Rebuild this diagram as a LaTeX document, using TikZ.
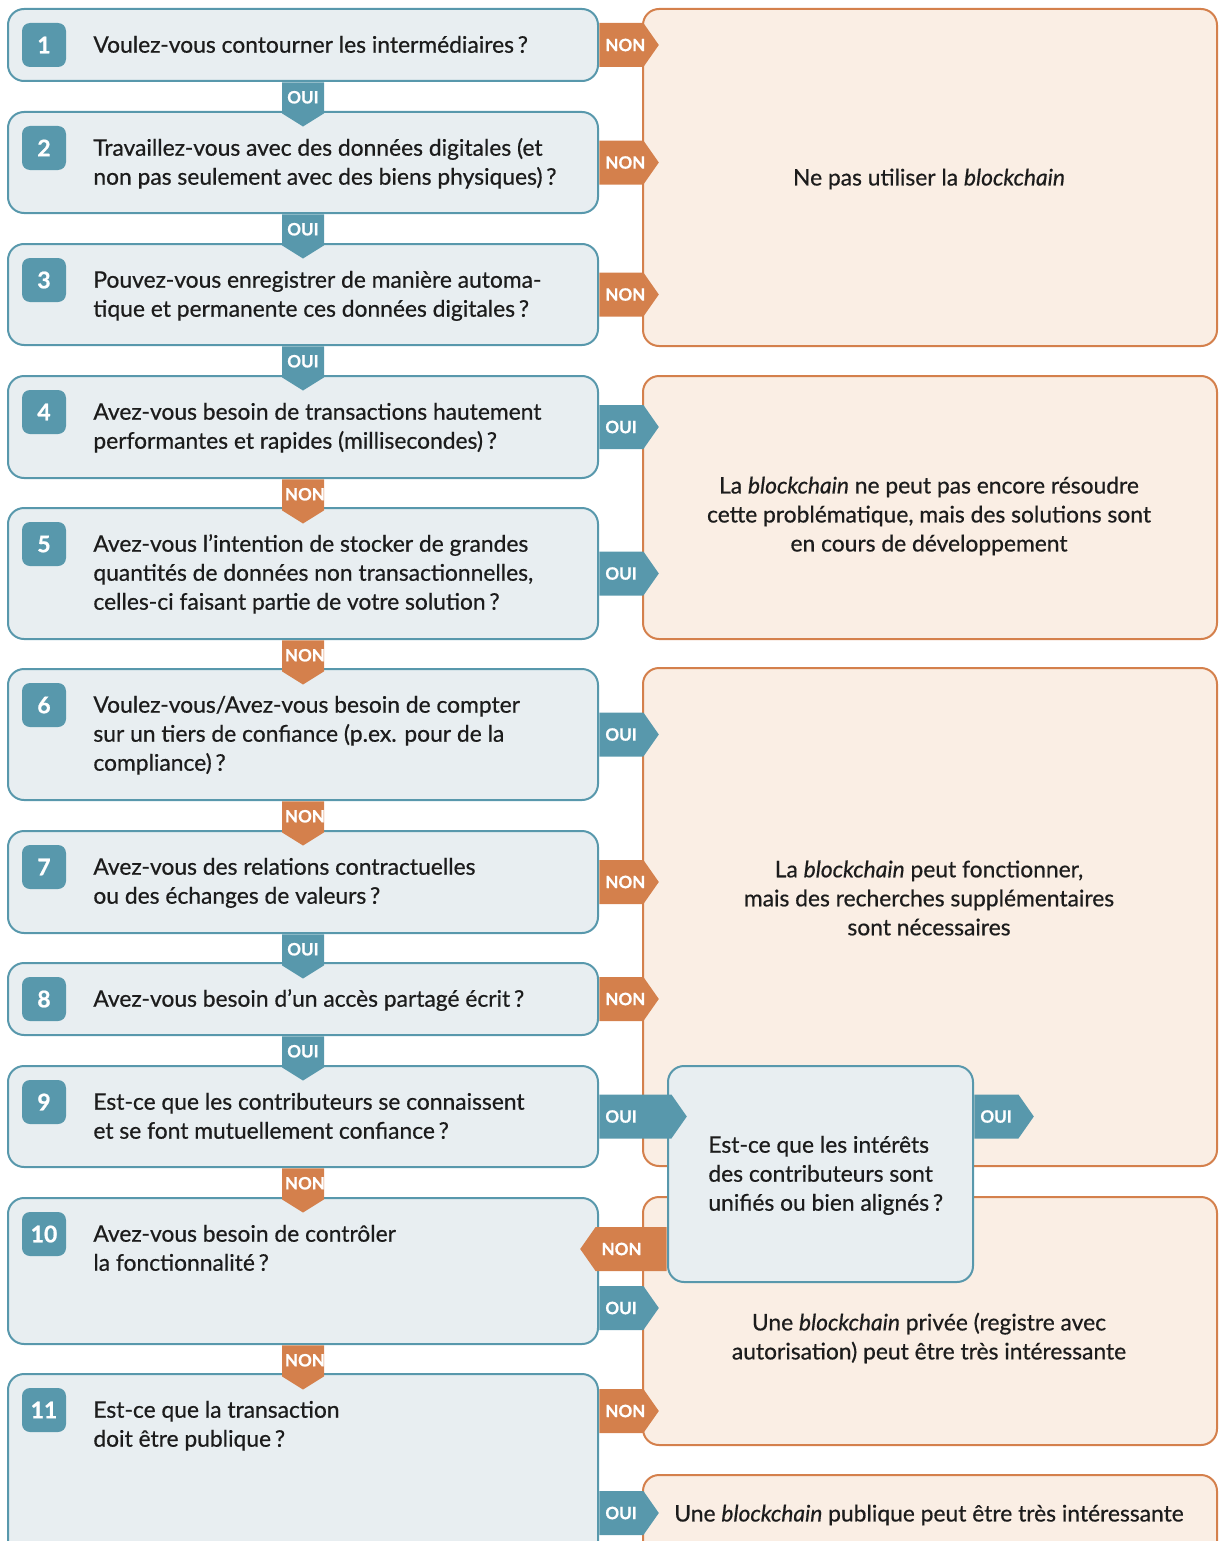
\documentclass[tikz,border=0pt]{standalone}
\usepackage{fontspec}
\setmainfont{Lato}[UprightFeatures={FakeBold=0.6}, ItalicFeatures={FakeBold=0.6}, BoldFeatures={FakeBold=0.8}]
\definecolor{qteal}{RGB}{88, 152, 172}
\definecolor{qorange}{RGB}{212, 128, 76}
\definecolor{qfill}{RGB}{232, 238, 241}
\definecolor{rfill}{RGB}{250, 238, 228}
\definecolor{qtext}{RGB}{28, 28, 28}
\usetikzlibrary{shapes.symbols, positioning}

\begin{document}
\begin{tikzpicture}[x=0.5pt, y=-0.5pt,
  qbox/.style={draw=qteal, fill=qfill, line width=1pt, rounded corners=8pt, minimum width=295pt, inner sep=0pt},
  rbox/.style={draw=qorange, fill=rfill, line width=1pt, rounded corners=8pt, minimum width=287pt, inner sep=0pt},
  badge/.style={fill=qteal, rounded corners=4pt, minimum width=22pt, minimum height=22pt, inner sep=0pt, text=white, font=\fontsize{11.5}{13}\selectfont\bfseries},
  qtxt/.style={anchor=north west, inner sep=0pt, align=left, text=qtext, font=\fontsize{11.4}{14.5}\selectfont},
  rtxt/.style={inner sep=0pt, align=center, text=qtext, font=\fontsize{11.4}{14.5}\selectfont},
  tagE/.style={signal, signal to=east, signal pointer angle=110, minimum height=22pt, text width=16pt, inner xsep=3pt, inner ysep=0pt, align=left, anchor=west, text=white, font=\fontsize{8.5}{9}\selectfont\bfseries},
  tagW/.style={tagE, signal to=west, anchor=east},
  tagS/.style={signal, signal to=south, signal pointer angle=116, text height=10.5pt, text depth=5pt, text width=18pt, inner xsep=1.5pt, inner ysep=0pt, align=center, anchor=north, text=white, font=\fontsize{8.5}{9}\selectfont\bfseries},
  oui/.style={fill=qteal}, non/.style={fill=qorange}]
  \useasboundingbox (0,0) rectangle (1224,1541);

  % Outcome boxes (right)
  \node[rbox, minimum height=168.5pt] (r1) at (930,177.5) {};
  \node[rbox, minimum height=131.5pt] (r2) at (930,507.5) {};
  \node[rbox, minimum height=249pt] (r3) at (930,917) {};
  \node[rbox, minimum height=124pt] (r4) at (930,1321) {};
  \node[rbox, minimum height=52.5pt] (r5) at (930,1527.5) {};

  \node[rtxt] (r1t) at (929,179) {Ne pas utiliser la \textit{blockchain}};
  \node[rtxt] (r2t) at (929,516) {La \textit{blockchain} ne peut pas encore résoudre\\cette problématique, mais des solutions sont\\en cours de développement};
  \node[rtxt] (r3t) at (929,898) {La \textit{blockchain} peut fonctionner,\\mais des recherches supplémentaires\\sont nécessaires};
  \node[rtxt] (r4t) at (929,1338) {Une \textit{blockchain} privée (registre avec\\autorisation) peut être très intéressante};
  \node[rtxt] (r5t) at (929,1515) {Une \textit{blockchain} publique peut être très intéressante};

  % Question boxes (left)
  \foreach \n/\t/\b in {1/9/81, 2/112/213, 3/244/345, 4/376/478, 5/508/639, 6/669/800,
      7/831/933, 8/963/1035, 9/1066/1167, 10/1198/1344, 11/1374/1580} {
    \node[qbox, minimum height={(\b-\t)*0.5pt}] (q\n) at (303,{(\t+\b)/2}) {};
    \node[badge] (b\n) at (44,{\t+36}) {\n};
  }

  \node[qtxt] (q1t) at (93,32) {\strut Voulez-vous contourner les intermédiaires\,?};
  \node[qtxt] (q2t) at (93,135) {\strut Travaillez-vous avec des données digitales (et\\non pas seulement avec des biens physiques)\,?};
  \node[qtxt] (q3t) at (93,267) {\strut Pouvez-vous enregistrer de manière automa-\\tique et permanente ces données digitales\,?};
  \node[qtxt] (q4t) at (93,399) {\strut Avez-vous besoin de transactions hautement\\performantes et rapides (millisecondes)\,?};
  \node[qtxt] (q5t) at (93,531) {\strut Avez-vous l’intention de stocker de grandes\\quantités de données non transactionnelles,\\celles-ci faisant partie de votre solution\,?};
  \node[qtxt] (q6t) at (93,692) {\strut Voulez-vous/Avez-vous besoin de compter\\sur un tiers de confiance (p.ex. pour de la\\compliance)\,?};
  \node[qtxt] (q7t) at (93,854) {\strut Avez-vous des relations contractuelles\\ou des échanges de valeurs\,?};
  \node[qtxt] (q8t) at (93,986) {\strut Avez-vous besoin d’un accès partagé écrit\,?};
  \node[qtxt] (q9t) at (93,1089) {\strut Est-ce que les contributeurs se connaissent\\et se font mutuellement confiance\,?};
  \node[qtxt] (q10t) at (93,1221) {\strut Avez-vous besoin de contrôler\\la fonctionnalité\,?};
  \node[qtxt] (q11t) at (93,1397) {\strut Est-ce que la transaction\\doit être publique\,?};

  % Extra question (middle)
  \node[qbox, minimum width=152.5pt, minimum height=108pt] (q12) at (820.5,1174) {};
  \node[qtxt] (q12t) at (708,1132) {\strut Est-ce que les intérêts\\des contributeurs sont\\unifiés ou bien alignés\,?};

  % Answer tags going down
  \node[tagS, oui] (d1) at (q1.south) {OUI};
  \node[tagS, oui] (d2) at (q2.south) {OUI};
  \node[tagS, oui] (d3) at (q3.south) {OUI};
  \node[tagS, non] (d4) at (q4.south) {NON};
  \node[tagS, non] (d5) at (q5.south) {NON};
  \node[tagS, non] (d6) at (q6.south) {NON};
  \node[tagS, oui] (d7) at (q7.south) {OUI};
  \node[tagS, oui] (d8) at (q8.south) {OUI};
  \node[tagS, non] (d9) at (q9.south) {NON};
  \node[tagS, non] (d10) at (q10.south) {NON};

  % Answer tags going right
  \node[tagE, non] (e1) at (q1.east) {NON};
  \node[tagE, non] (e2) at (q2.east) {NON};
  \node[tagE, non] (e3) at (q3.east) {NON};
  \node[tagE, oui] (e4) at (q4.east) {OUI};
  \node[tagE, oui] (e5) at (q5.east) {OUI};
  \node[tagE, oui] (e6) at (q6.east) {OUI};
  \node[tagE, non] (e7) at (q7.east) {NON};
  \node[tagE, non] (e8) at (q8.east) {NON};
  \node[tagE, oui, text width=30pt] (e9) at (q9.east) {OUI};
  \node[tagE, oui] (e12) at (q12.east |- q9.east) {OUI};
  \node[tagW, non, text width=29.5pt] (w12) at (q12.west |- 0,1249) {NON};
  \node[tagE, oui] (e10) at (q10.east |- 0,1308) {OUI};
  \node[tagE, non] (e11a) at (q11.east |- 0,1411) {NON};
  \node[tagE, oui] (e11b) at (q11.east |- 0,1513) {OUI};
\end{tikzpicture}
\end{document}
